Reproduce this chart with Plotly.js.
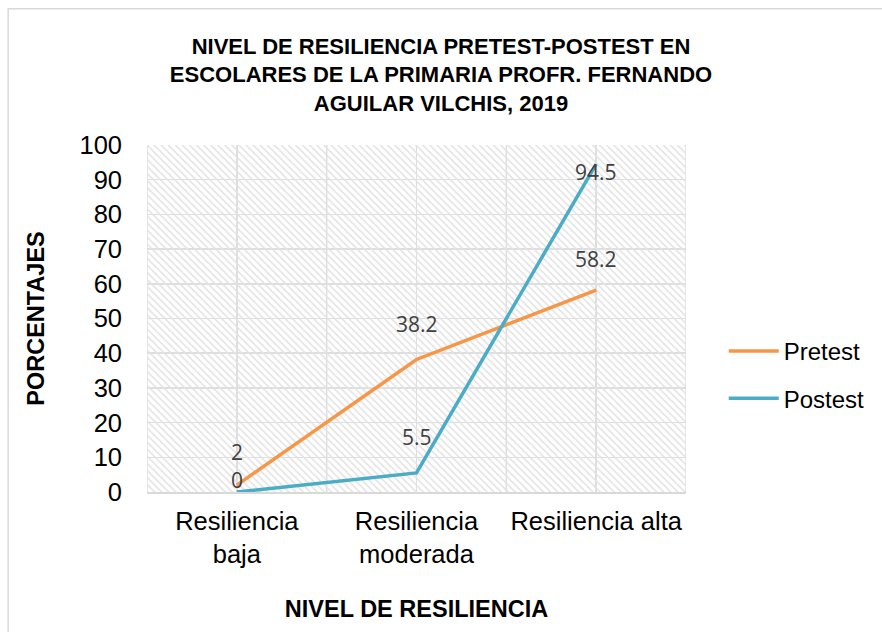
<!DOCTYPE html>
<html>
<head>
<meta charset="utf-8">
<script src="https://cdn.plot.ly/plotly-3.0.1.min.js"></script>
<style>html,body{margin:0;padding:0;background:#fff;}#chart{width:882px;height:632px;}</style>
</head>
<body>
<div id="chart"></div>
<script>
const categories = ["Resiliencia<br>baja", "Resiliencia<br>moderada", "Resiliencia alta"];
const pretest = [2, 38.2, 58.2];
const postest = [0, 5.5, 94.5];
const seriesNames = ["Pretest", "Postest"];
const yTicks = [0, 10, 20, 30, 40, 50, 60, 70, 80, 90, 100];

const yMax = yTicks[yTicks.length - 1];
const orange = "#F79646";
const blue = "#4BACC6";
const F = "Liberation Sans, Arial, sans-serif";

// hatched plot background
const hatch = {
  type: "bar", x: categories, y: categories.map(() => yMax), width: 1,
  marker: {color: "rgba(0,0,0,0)", line: {width: 0},
    pattern: {shape: "\\", fgcolor: "#e2e2e2", bgcolor: "rgba(0,0,0,0)", size: 5, solidity: 0.3}},
  hoverinfo: "skip", showlegend: false
};

const tPre = {type: "scatter", mode: "lines", name: seriesNames[0], x: categories, y: pretest,
  line: {color: orange, width: 3.5}, legendgroup: "a"};
const tPost = {type: "scatter", mode: "lines", name: seriesNames[1], x: categories, y: postest,
  line: {color: blue, width: 3.5}, legendgroup: "b"};

// label offsets (style)
const shiftPre = [33, 35, 31];
const shiftPost = [12, 36, -8];
const labelFont = {family: "Open Sans, sans-serif", size: 21, color: "#404040"};
const annotations = [];
pretest.forEach((v, i) => annotations.push({x: categories[i], y: v, text: String(v), showarrow: false,
  yshift: shiftPre[i], font: labelFont}));
postest.forEach((v, i) => annotations.push({x: categories[i], y: v, text: String(v), showarrow: false,
  yshift: shiftPost[i], font: labelFont}));

const shapes = [-0.5, 0.5, 1.5, 2.5].map(xv => ({type: "line", xref: "x", yref: "y", x0: xv, x1: xv, y0: 0, y1: yMax,
  line: {color: "#dedede", width: 1.5}, layer: "below"}));
shapes.push({type: "rect", xref: "paper", yref: "paper", x0: -0.2576, x1: 1.5, y0: -0.6, y1: 1.3928,
  line: {color: "#d9d9d9", width: 1.5}, fillcolor: "rgba(0,0,0,0)", layer: "below"});

const layout = {
  width: 882, height: 632,
  margin: {l: 147, r: 194, t: 145, b: 140},
  paper_bgcolor: "#ffffff", plot_bgcolor: "#ffffff",
  barmode: "overlay", bargap: 0,
  title: {text: "NIVEL DE RESILIENCIA PRETEST-POSTEST EN<br>ESCOLARES DE LA PRIMARIA PROFR. FERNANDO<br>AGUILAR VILCHIS, 2019",
    font: {family: F, size: 22, color: "#000", weight: "bold"}, x: 0.5, xanchor: "center", xref: "container",
    y: 0.915, yanchor: "top", yref: "container"},
  xaxis: {type: "category", range: [-0.5, 2.5], showgrid: true, gridcolor: "#dedede", gridwidth: 1.5,
    showline: true, linecolor: "#d9d9d9", linewidth: 1.5, ticks: "", tickfont: {family: F, size: 25.5, color: "#000"},
    ticklabelstandoff: 6,
    title: {text: "NIVEL DE RESILIENCIA", font: {family: F, size: 23.5, color: "#000", weight: "bold"}, standoff: 33},
    fixedrange: true},
  yaxis: {range: [0, yMax], tickvals: yTicks, showgrid: true, gridcolor: "#dedede", gridwidth: 1.5, zeroline: false,
    ticks: "", tickfont: {family: F, size: 25.5, color: "#000"}, ticklabelstandoff: 24,
    title: {text: "PORCENTAJES", font: {family: F, size: 23.5, color: "#000", weight: "bold"}, standoff: 28},
    fixedrange: true},
  legend: {x: 1.07, y: 0.47, xanchor: "left", yanchor: "top", font: {family: F, size: 24, color: "#000"},
    tracegroupgap: 13, itemwidth: 50, bgcolor: "rgba(0,0,0,0)"},
  shapes: shapes,
  annotations: annotations,
  hovermode: false
};

Plotly.newPlot("chart", [hatch, tPre, tPost], layout, {displayModeBar: false, staticPlot: true});
</script>
</body>
</html>
